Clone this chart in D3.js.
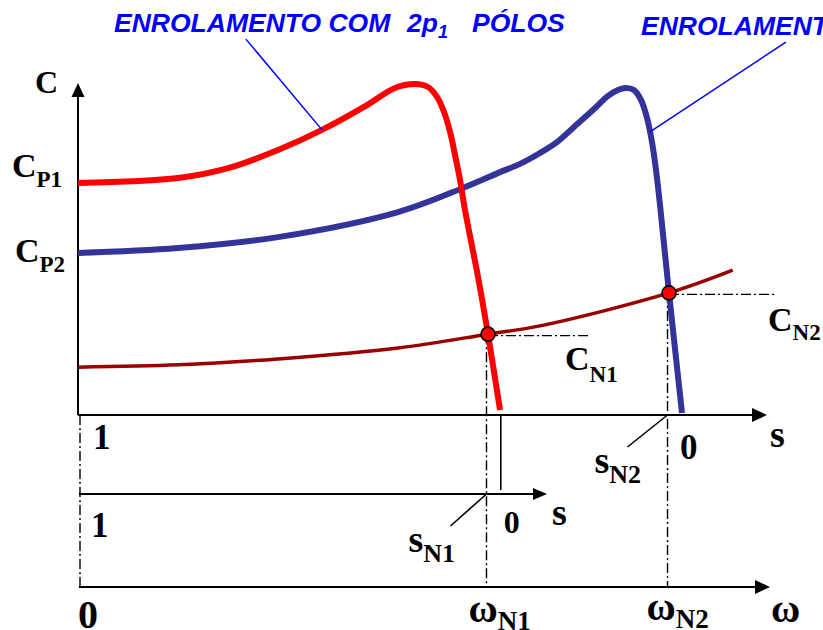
<!DOCTYPE html>
<html>
<head>
<meta charset="utf-8">
<script src="https://cdn.jsdelivr.net/npm/d3@7"></script>
<style>
  html, body { margin: 0; padding: 0; background: #fff; }
  svg { display: block; }
</style>
</head>
<body>
<script>
// Torque–speed characteristics of a two-speed (pole-changing) induction motor.
// ω is given in % of the synchronous speed of the 2p2 winding,
// C in % of the breakdown torque of the 2p1 winding.

const syncSpeeds = [70, 100];               // ω where s = 0 for each winding

// Motor torque, 2p1 winding  [ω, C]
const torqueP1 = [
  [0, 70.3], [16.56, 71.8], [24.83, 74.8], [33.11, 80.3], [40.4, 86.4],
  [47.85, 93.9], [52.48, 99.1], [55.79, 100.3], [57.95, 99.4], [59.44, 96.4],
  [60.6, 91.8], [61.59, 85.8], [62.42, 78.8], [63.25, 71.2], [64.07, 62.1],
  [66.23, 41.8], [67.88, 24.5], [69.87, 1.5]
];

// Motor torque, 2p2 winding  [ω, C]
const torqueP2 = [
  [0, 49.1], [16.56, 50.6], [33.11, 53.9], [52.98, 61.5], [63.74, 68.8],
  [69.87, 73.6], [73.18, 76.1], [76.49, 79.4], [79.3, 82.7], [81.95, 87.0],
  [85.26, 92.4], [87.75, 96.7], [89.4, 98.5], [90.73, 99.1], [92.05, 98.5],
  [93.21, 95.5], [94.21, 90.0], [95.03, 82.7], [95.7, 74.2], [96.36, 63.6],
  [97.85, 37.0], [100, 0.6]
];

// Load torque  [ω, C]
const loadTorque = [
  [0, 14.5], [16.6, 15.2], [33.1, 17.0], [53.0, 20.3], [67.88, 24.5],
  [76.5, 27.0], [97.85, 37.0], [108.4, 43.9]
];

// Steady operating points (motor torque = load torque)
const operatingPoints = [
  { id: "N1", w: 67.88, c: 24.5 },
  { id: "N2", w: 97.85, c: 37.0 }
];

const slipLabels = ["1", "0"];
const speedOrigin = "0";
const titleSubs = ["1", "2"];

// ---------------------------------------------------------------------------

const W = 823, H = 630;
const svg = d3.select("body").append("svg")
  .attr("width", W).attr("height", H)
  .attr("viewBox", `0 0 ${W} ${H}`);

const x = d3.scaleLinear().domain([0, 100]).range([78, 682]);
const y = d3.scaleLinear().domain([0, 100]).range([415, 85]);

const slipAxis2Y = 494;     // slip axis of the 2p1 winding
const speedAxisY = 587;     // angular speed axis

const serif = "'Liberation Serif', 'Times New Roman', serif";
const sans = "'Liberation Sans', Arial, sans-serif";
const dashDot = "10 3 2 3";

function arrowLine(x1, y1, x2, y2, head = 15, half = 6.5) {
  const g = svg.append("g");
  const a = Math.atan2(y2 - y1, x2 - x1);
  const bx = x2 - head * Math.cos(a), by = y2 - head * Math.sin(a);
  g.append("line")
    .attr("x1", x1).attr("y1", y1).attr("x2", bx + Math.cos(a)).attr("y2", by + Math.sin(a))
    .attr("stroke", "#000").attr("stroke-width", 2);
  const px = -Math.sin(a) * half, py = Math.cos(a) * half;
  g.append("path")
    .attr("d", `M${x2},${y2}L${bx + px},${by + py}L${bx - px},${by - py}Z`)
    .attr("fill", "#000");
}

function label(px, py, main, sub, size, subSize, subDy, family = serif) {
  const t = svg.append("text")
    .attr("x", px).attr("y", py)
    .attr("font-family", family).attr("font-weight", "bold")
    .attr("font-size", size).attr("fill", "#000");
  t.append("tspan").text(main);
  if (sub) t.append("tspan").attr("dy", subDy).attr("font-size", subSize).text(sub);
  return t;
}

// --- reference (dash-dot) lines ---------------------------------------------
const refG = svg.append("g")
  .attr("stroke", "#000").attr("stroke-width", 1.4)
  .attr("stroke-dasharray", dashDot).attr("fill", "none");

refG.append("line")
  .attr("x1", x(0) + 2).attr("y1", y(0))
  .attr("x2", x(0) + 2).attr("y2", speedAxisY);

const refEnds = [84.8, 115.4];
operatingPoints.forEach((p, i) => {
  refG.append("line")
    .attr("x1", x(p.w)).attr("y1", y(p.c) + 1.5)
    .attr("x2", x(refEnds[i])).attr("y2", y(p.c) + 1.5);
  refG.append("line")
    .attr("x1", x(p.w) - 1.5).attr("y1", y(p.c))
    .attr("x2", x(p.w) - 1.5).attr("y2", speedAxisY);
});

// --- axes ---------------------------------------------------------------------
arrowLine(x(0), y(0), x(0), 83, 14, 6.5);                  // C axis
arrowLine(x(0), y(0), 767, y(0), 15, 7);                    // s axis, 2p2
arrowLine(x(0) + 1, slipAxis2Y, 547, slipAxis2Y, 14, 6);    // s axis, 2p1
arrowLine(x(0) + 1, speedAxisY, 770, speedAxisY, 15, 7);    // ω axis

// s = 0 marker of the 2p1 winding on the upper slip axis
svg.append("line")
  .attr("x1", x(syncSpeeds[0])).attr("y1", y(0))
  .attr("x2", x(syncSpeeds[0])).attr("y2", slipAxis2Y - 4)
  .attr("stroke", "#000").attr("stroke-width", 1.6);

// --- curves -----------------------------------------------------------------
const line = d3.line()
  .x(d => x(d[0])).y(d => y(d[1]))
  .curve(d3.curveCatmullRom.alpha(0.5));

svg.append("path").datum(loadTorque)
  .attr("d", line).attr("fill", "none")
  .attr("stroke", "#990000").attr("stroke-width", 3.5);

svg.append("path").datum(torqueP2)
  .attr("d", line).attr("fill", "none")
  .attr("stroke", "#333399").attr("stroke-width", 6);

svg.append("path").datum(torqueP1)
  .attr("d", line).attr("fill", "none")
  .attr("stroke", "#ff0000").attr("stroke-width", 6);

svg.selectAll("circle.op").data(operatingPoints).join("circle")
  .attr("class", "op")
  .attr("cx", d => x(d.w)).attr("cy", d => y(d.c)).attr("r", 7)
  .attr("fill", "#ff0000").attr("stroke", "#000").attr("stroke-width", 1.6);

// --- winding titles with leaders ---------------------------------------------
const leaders = [
  { from: [27.8, 113.9], to: [40.4, 86.4] },
  { from: [117.2, 113.0], to: [94.7, 85.8] }
];
svg.selectAll("line.leader").data(leaders).join("line")
  .attr("class", "leader")
  .attr("x1", d => x(d.from[0])).attr("y1", d => y(d.from[1]))
  .attr("x2", d => x(d.to[0])).attr("y2", d => y(d.to[1]))
  .attr("stroke", "#0000ff").attr("stroke-width", 1.5);

// title words: "ENROLAMENTO COM", "2p", pole index, "PÓLOS"
const titleRuns = [
  { x0: 114, y0: 32, offsets: [0, 293, 358] },
  { x0: 641, y0: 35, offsets: [0, 293, 358] }
];
titleRuns.forEach((r, i) => {
  const txt = svg.append("text")
    .attr("y", r.y0)
    .attr("font-family", sans).attr("font-weight", "bold")
    .attr("font-style", "italic").attr("font-size", 26.5)
    .attr("fill", "#0000ff");
  txt.append("tspan").attr("x", r.x0 + r.offsets[0]).text("ENROLAMENTO COM");
  txt.append("tspan").attr("x", r.x0 + r.offsets[1]).text("2p");
  txt.append("tspan").attr("dy", 6).attr("font-size", 18).text(titleSubs[i]);
  txt.append("tspan").attr("x", r.x0 + r.offsets[2]).attr("dy", -6).text("PÓLOS");
});

// --- labels -----------------------------------------------------------------
label(35, 93, "C", null, 32);
label(12, 177, "C", "P1", 34, 23, 10);
label(15, 262, "C", "P2", 34, 23, 10);
label(565, 370, "C", "N1", 34, 23, 12);
label(768, 331, "C", "N2", 34, 23, 9);

// upper slip axis (2p2)
label(x(0) + 15, 449, slipLabels[0], null, 35);
label(x(syncSpeeds[1]) - 2, 459, slipLabels[1], null, 35);
label(770, 447, "s", null, 38);

// lower slip axis (2p1)
label(x(0) + 13, 537, slipLabels[0], null, 35);
label(x(syncSpeeds[0]) + 3, 533, slipLabels[1], null, 32);
label(552, 525, "s", null, 38);

// speed axis
label(x(0), 628, speedOrigin, null, 40);
label(771, 622, "ω", null, 40);

// operating slips and speeds
const slipRows = [slipAxis2Y, y(0)];
operatingPoints.forEach((p, i) => {
  const px = x(p.w) - 1.5;
  const ay = slipRows[i];
  svg.append("line")
    .attr("x1", px).attr("y1", ay)
    .attr("x2", px - (i === 0 ? 36 : 40)).attr("y2", ay + 32)
    .attr("stroke", "#000").attr("stroke-width", 1.6);
  label(px - (i === 0 ? 78 : 73), ay + 58, "s", p.id, 38, 26, 10);
  label(px - 18 - (i === 0 ? 0 : 3), 622 - (i === 0 ? 0 : 2), "ω", p.id, 40, 27, 8);
});
</script>
</body>
</html>
